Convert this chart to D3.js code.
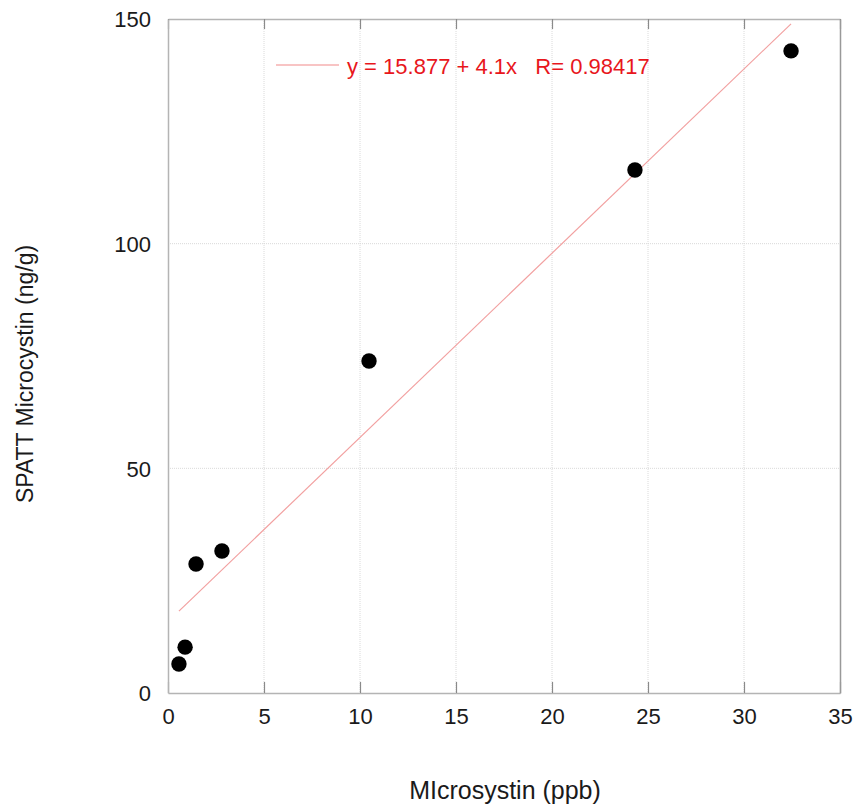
<!DOCTYPE html>
<html>
<head>
<meta charset="utf-8">
<script src="https://cdn.jsdelivr.net/npm/d3@7"></script>
<style>
  body { margin: 0; background: #fff; }
  text { font-family: "Liberation Sans", Arial, sans-serif; }
</style>
</head>
<body>
<svg width="855" height="809"></svg>
<script>
// measured values
const microcystinPpb = [0.57, 0.89, 1.46, 2.81, 10.47, 24.32, 32.45];
const spattNgG = [6.45, 10.2, 28.7, 31.6, 73.9, 116.4, 142.9];
const xTicks = [0, 5, 10, 15, 20, 25, 30, 35];
const yTicks = [0, 50, 100, 150];
const fitIntercept = 15.877;
const fitSlope = 4.1;
const fitLabel = "y = 15.877 + 4.1x   R= 0.98417";

const svg = d3.select("svg");
const plotL = 168, plotR = 840, plotT = 19, plotB = 693;

const x = d3.scaleLinear().domain([0, 35]).range([plotL, plotR]);
const y = d3.scaleLinear().domain([0, 150]).range([plotB, plotT]);

// grid
svg.append("g").selectAll("line").data(xTicks.slice(1, -1)).enter().append("line")
  .attr("x1", d => x(d)).attr("x2", d => x(d))
  .attr("y1", plotT).attr("y2", plotB)
  .attr("stroke", "#dadada").attr("stroke-width", 1).attr("stroke-dasharray", "1,1");
svg.append("g").selectAll("line").data(yTicks.slice(1, -1)).enter().append("line")
  .attr("x1", plotL).attr("x2", plotR)
  .attr("y1", d => y(d)).attr("y2", d => y(d))
  .attr("stroke", "#dadada").attr("stroke-width", 1).attr("stroke-dasharray", "1,1");

// axes, ticks inward
const xAxis = svg.append("g").attr("transform", `translate(0,${plotB})`)
  .call(d3.axisBottom(x).tickValues(xTicks).tickSizeInner(-11).tickSizeOuter(0).tickPadding(15));
const xTop = svg.append("g").attr("transform", `translate(0,${plotT})`)
  .call(d3.axisTop(x).tickValues(xTicks).tickSizeInner(-10).tickSizeOuter(0).tickFormat(""));
const yAxis = svg.append("g").attr("transform", `translate(${plotL},0)`)
  .call(d3.axisLeft(y).tickValues(yTicks).tickSizeInner(0).tickSizeOuter(0).tickPadding(17));
const yRight = svg.append("g").attr("transform", `translate(${plotR},0)`)
  .call(d3.axisRight(y).tickValues(yTicks).tickSizeInner(0).tickSizeOuter(0).tickFormat(""));

[xAxis, xTop, yAxis, yRight].forEach(g => {
  g.select(".domain").attr("stroke", "#b4b4b4").attr("stroke-width", 1.5);
  g.selectAll(".tick line").attr("stroke", "#8a8a8a").attr("stroke-width", 1.2);
  g.selectAll(".tick text").attr("fill", "#1a1a1a").style("font-size", "22px")
    .style("font-family", "'Liberation Sans', Arial, sans-serif");
});
yRight.select(".domain").attr("stroke", "#999");
xAxis.selectAll(".tick text").attr("dy", "0.71em");
yAxis.selectAll(".tick text").attr("dy", "0.36em");

// fit line
const xMin = d3.min(microcystinPpb), xMax = d3.max(microcystinPpb);
svg.append("line")
  .attr("x1", x(xMin)).attr("y1", y(fitIntercept + fitSlope * xMin))
  .attr("x2", x(xMax)).attr("y2", y(fitIntercept + fitSlope * xMax))
  .attr("stroke", "#f2a0a0").attr("stroke-width", 1.2);

// points
svg.append("g").selectAll("circle").data(microcystinPpb).enter().append("circle")
  .attr("cx", d => x(d)).attr("cy", (d, i) => y(spattNgG[i]))
  .attr("r", 7.7).attr("fill", "#000");

// legend
svg.append("line").attr("x1", 276).attr("x2", 339).attr("y1", 65).attr("y2", 65)
  .attr("stroke", "#f6b0b0").attr("stroke-width", 1.5);
svg.append("text").attr("x", 347).attr("y", 74).attr("fill", "#e8161c")
  .style("font-size", "22px").style("white-space", "pre").attr("xml:space", "preserve")
  .text(fitLabel);

// axis titles
svg.append("text").attr("x", 505).attr("y", 799).attr("text-anchor", "middle")
  .attr("fill", "#1a1a1a").style("font-size", "25px").text("MIcrosystin (ppb)");
svg.append("text").attr("transform", "translate(33,374) rotate(-90)").attr("text-anchor", "middle")
  .attr("fill", "#1a1a1a").style("font-size", "23px").text("SPATT Microcystin (ng/g)");
</script>
</body>
</html>
